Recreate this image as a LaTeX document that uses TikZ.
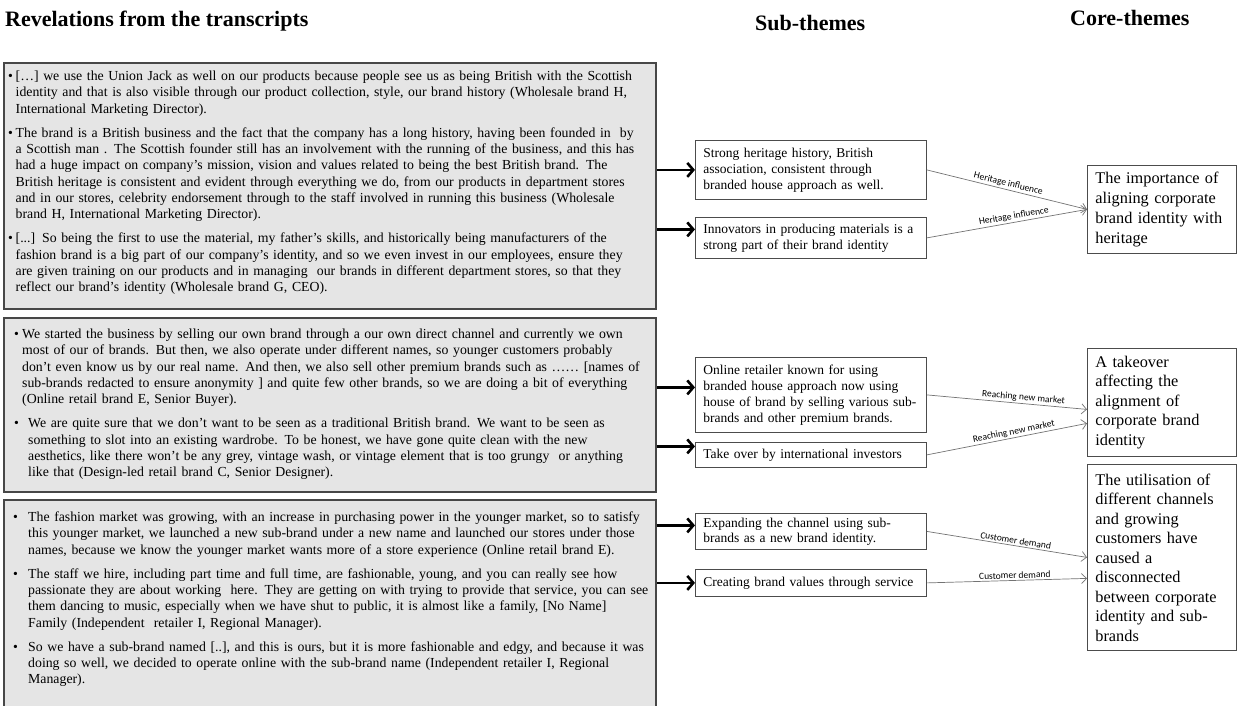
\documentclass[tikz,border=0pt]{standalone}
\usepackage{fontspec}
\setmainfont{Liberation Serif}
\newfontfamily\calib{Carlito}
\usetikzlibrary{arrows.meta}
\newcommand\J[1]{\makebox[\linewidth][s]{#1}}
\newcommand\R[1]{\mbox{#1}}
\newcommand\bul[2]{\par\noindent\makebox[#1][l]{•}\parbox[t]{\dimexpr\hsize-#1\relax}{#2}\par}
\newcommand\pg{\vspace{10.5pt}}
\begin{document}
\begin{tikzpicture}[x=1pt,y=-1pt,
  lbox/.style={draw=black!72, line width=1.8pt, fill=black!10, inner sep=0pt, anchor=north west},
  ltext/.style={inner sep=0pt, anchor=north west, align=left, font=\fontsize{13.8}{16.3}\selectfont},
  sbox/.style={draw=black!70, line width=0.8pt, fill=white, anchor=north west, inner xsep=8pt, inner ysep=0pt, align=left, font=\fontsize{13.5}{16}\selectfont},
  cbox/.style={draw=black!70, line width=0.8pt, fill=white, anchor=north west, inner xsep=8pt, inner ysep=0pt, align=left, font=\fontsize{16.3}{19.5}\selectfont},
  head/.style={anchor=base west, inner sep=0pt, font=\bfseries\fontsize{22}{26}\selectfont},
  bigarrow/.style={line width=2.6pt, -{Straight Barb[length=6pt,width=14pt]}},
  thinarrow/.style={draw=black!55, line width=0.7pt, -{Straight Barb[length=5pt,width=10pt]}},
  lab/.style={font=\calib\fontsize{9.5}{11}\selectfont, sloped, above, inner sep=1.5pt, text=black}
]
\useasboundingbox (0,0) rectangle (1237,706);

% titles
\node[head] (t1) at (5,27) {Revelations from the transcripts};
\node[head] (t2) at (755,31) {Sub-themes};
\node[head] (t3) at (1070,26) {Core-themes};

% left boxes
\node[lbox, minimum width=652pt, minimum height=246pt] (b1) at (3,62) {};
\node[lbox, minimum width=652pt, minimum height=174pt] (b2) at (3,317) {};
\node[lbox, minimum width=652pt, minimum height=215pt] (b3) at (3,499) {};

\node[ltext, text width=637pt] (b1t) at (8,64) {%
\bul{7.5pt}{\J{[…] we use the Union Jack as well on our products because people see us as being British with the Scottish}\\
\J{identity and that is also visible through our product collection, style, our brand history (Wholesale brand H,}\\
\R{International Marketing Director).}}
\pg
\bul{7.5pt}{\J{The brand is a British business and the fact that the company has a long history, having been founded in \ by}\\
\J{a Scottish man . The Scottish founder still has an involvement with the running of the business, and this has}\\
\J{had a huge impact on company’s mission, vision and values related to being the best British brand. The}\\
\J{British heritage is consistent and evident through everything we do, from our products in department stores}\\
\J{and in our stores, celebrity endorsement through to the staff involved in running this business (Wholesale}\\
\R{brand H, International Marketing Director).}}
\pg
\bul{7.5pt}{\R{[...] So being the first to use the material, my father’s skills, and historically being manufacturers of the}\\
\R{fashion brand is a big part of our company’s identity, and so we even invest in our employees, ensure they}\\
\R{are given training on our products and in managing \ our brands in different department stores, so that they}\\
\R{reflect our brand’s identity (Wholesale brand G, CEO).}}
};

\node[ltext, text width=629pt] (b2t) at (14,322) {%
\bul{8pt}{\J{We started the business by selling our own brand through a our own direct channel and currently we own}\\
\J{most of our of brands. But then, we also operate under different names, so younger customers probably}\\
\J{don’t even know us by our real name. And then, we also sell other premium brands such as …… [names of}\\
\J{sub-brands redacted to ensure anonymity ] and quite few other brands, so we are doing a bit of everything}\\
\R{(Online retail brand E, Senior Buyer).}}
\pg
\bul{14pt}{\R{We are quite sure that we don't want to be seen as a traditional British brand. We want to be seen as}\\
\R{something to slot into an existing wardrobe. To be honest, we have gone quite clean with the new}\\
\R{aesthetics, like there won’t be any grey, vintage wash, or vintage element that is too grungy \ or anything}\\
\R{like that (Design-led retail brand C, Senior Designer).}}
};

\node[ltext, text width=632pt] (b3t) at (13,505) {%
\bul{15pt}{\R{The fashion market was growing, with an increase in purchasing power in the younger market, so to satisfy}\\
\R{this younger market, we launched a new sub-brand under a new name and launched our stores under those}\\
\R{names, because we know the younger market wants more of a store experience (Online retail brand E).}}
\pg
\bul{15pt}{\R{The staff we hire, including part time and full time, are fashionable, young, and you can really see how}\\
\R{passionate they are about working \ here. They are getting on with trying to provide that service, you can see}\\
\R{them dancing to music, especially when we have shut to public, it is almost like a family, [No Name]}\\
\R{Family (Independent \ retailer I, Regional Manager).}}
\pg
\bul{15pt}{\R{So we have a sub-brand named [..], and this is ours, but it is more fashionable and edgy, and because it was}\\
\R{doing so well, we decided to operate online with the sub-brand name (Independent retailer I, Regional}\\
\R{Manager).}}
};

% sub-themes
\node[sbox, minimum width=231pt, minimum height=59pt, text width=215pt] (s1) at (695,140) {\R{Strong heritage history, British}\\\R{association, consistent through}\\\R{branded house approach as well.}};
\node[sbox, minimum width=231pt, minimum height=41pt, text width=215pt] (s2) at (695,217) {\R{Innovators in producing materials is a}\\\R{strong part of their brand identity}};
\node[sbox, minimum width=231pt, minimum height=75pt, text width=215pt] (s3) at (695,357) {\R{Online retailer known for using}\\\R{branded house approach now using}\\\R{house of brand by selling various sub-}\\\R{brands and other premium brands.}};
\node[sbox, minimum width=231pt, minimum height=25pt, text width=215pt] (s4) at (695,442) {\R{Take over by international investors}};
\node[sbox, minimum width=231pt, minimum height=36pt, text width=215pt, font=\fontsize{13.5}{15}\selectfont] (s5) at (695,513) {\R{Expanding the channel using sub-}\\\R{brands as a new brand identity.}};
\node[sbox, minimum width=231pt, minimum height=27pt, text width=215pt] (s6) at (695,569) {\R{Creating brand values through service}};

% core themes
\node[cbox, minimum width=149pt, minimum height=88pt, text width=133pt, font=\fontsize{16.3}{20}\selectfont] (c1) at (1087,165) {The importance of\\aligning corporate\\brand identity with\\heritage};
\node[cbox, minimum width=149pt, minimum height=108pt, text width=133pt] (c2) at (1087,348) {A takeover\\affecting the\\alignment of\\corporate brand\\identity};
\node[cbox, minimum width=149pt, minimum height=186pt, text width=133pt] (c3) at (1087,464) {The utilisation of\\different channels\\and growing\\customers have\\caused a\\disconnected\\between corporate\\identity and sub-\\brands};

% thick arrows
\coordinate (p2) at ([yshift=8.5pt]s2.west);
\coordinate (p3) at ([yshift=7.5pt]s3.west);
\coordinate (p4) at ([yshift=8.5pt]s4.west);
\coordinate (p5) at ([yshift=6pt]s5.west);
\draw[bigarrow] (b1.east |- s1.west) -- (s1.west);
\draw[bigarrow] (b1.east |- p2) -- (p2);
\draw[bigarrow] (b2.east |- p3) -- (p3);
\draw[bigarrow] (b2.east |- p4) -- (p4);
\draw[bigarrow] (b3.east |- p5) -- (p5);
\draw[bigarrow] (b3.east |- s6.west) -- (s6.west);

% thin arrows
\draw[thinarrow] (s1.east) -- node[lab, pos=0.5]{Heritage influence} (c1.west);
\draw[thinarrow] (s2.east) -- node[lab, pos=0.55]{Heritage influence} (c1.west);
\draw[thinarrow] (s3.east) -- node[lab, pos=0.6]{Reaching new market} ([yshift=-7pt]c2.west);
\draw[thinarrow] (s4.east) -- node[lab, pos=0.55]{Reaching new market} ([yshift=-21pt]c2.west);
\draw[thinarrow] (s5.east) -- node[lab, pos=0.55]{Customer demand} (c3.west);
\draw[thinarrow] (s6.east) -- node[lab, pos=0.55]{Customer demand} ([yshift=-21pt]c3.west);
\end{tikzpicture}
\end{document}
